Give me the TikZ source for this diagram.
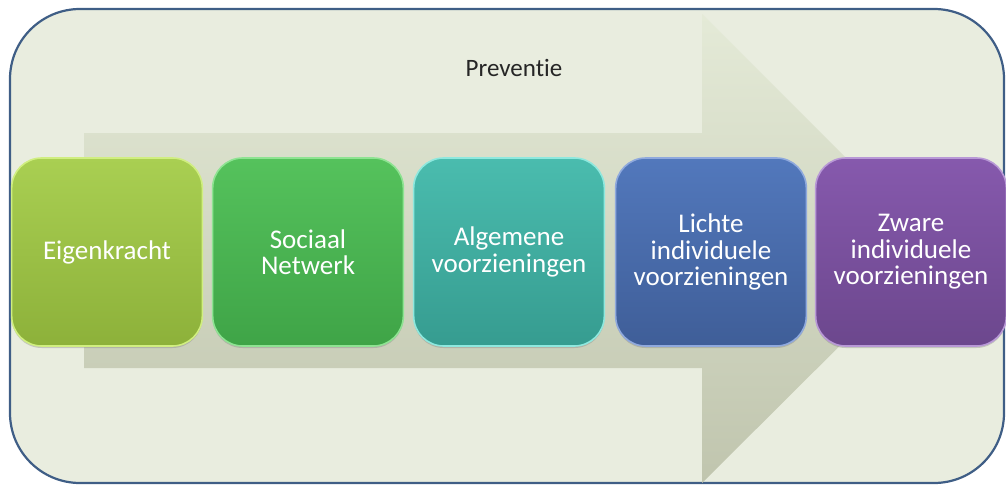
\documentclass[tikz,border=0pt]{standalone}
\usepackage{fontspec}
\setmainfont{Carlito}[Ligatures=NoCommon]
\usetikzlibrary{shadows}
\definecolor{frameblue}{HTML}{3F5E86}
\definecolor{framefill}{HTML}{E9EDDF}
\definecolor{arrtop}{HTML}{E4EAD7}
\definecolor{arrbot}{HTML}{C0C5AE}
\definecolor{c1t}{HTML}{A9CF52}\definecolor{c1b}{HTML}{8DB13A}\definecolor{c1e}{HTML}{D0EE80}
\definecolor{c2t}{HTML}{55C25C}\definecolor{c2b}{HTML}{3FA447}\definecolor{c2e}{HTML}{8EE392}
\definecolor{c3t}{HTML}{4ABCAE}\definecolor{c3b}{HTML}{369C90}\definecolor{c3e}{HTML}{8EE8DE}
\definecolor{c4t}{HTML}{5278BC}\definecolor{c4b}{HTML}{3F5E98}\definecolor{c4e}{HTML}{8FA9DD}
\definecolor{c5t}{HTML}{8659AD}\definecolor{c5b}{HTML}{6C478D}\definecolor{c5e}{HTML}{B898D6}
\tikzset{
  stepbox/.style n args={3}{draw=#3, line width=1.6pt, rounded corners=30pt,
    top color=#1, bottom color=#2, minimum width=188pt, minimum height=188pt,
    text=white, align=center, text width=184pt,
    font=\fontsize{27}{26.5}\selectfont,
    drop shadow={shadow xshift=0pt, shadow yshift=-2pt, opacity=0.35}},
  lbl/.style={text=black!85, font=\fontsize{25}{28}\selectfont}
}
\begin{document}
\begin{tikzpicture}[x=1pt,y=-1pt]
\useasboundingbox (0,0) rectangle (1006,485);
% outer frame
\draw[frameblue, line width=2.2pt, fill=framefill, rounded corners=70pt]
  (10,9) rectangle (1004,483);
% big arrow
\shade[top color=arrtop, bottom color=arrbot]
  (84,133) -- (702,133) -- (702,14) -- (937,249) -- (702,483) -- (702,368) -- (84,368) -- cycle;
\node[lbl] (prev) at (514,68) {Preventie};
% boxes
\node[stepbox={c1t}{c1b}{c1e}] (b1) at (107,252) {Eigenkracht};
\node[stepbox={c2t}{c2b}{c2e}] (b2) at (308,252) {Sociaal\\Netwerk};
\node[stepbox={c3t}{c3b}{c3e}] (b3) at (509,252) {Algemene\\voorzieningen};
\node[stepbox={c4t}{c4b}{c4e}] (b4) at (711,252) {Lichte\\individuele\\voorzieningen};
\node[stepbox={c5t}{c5b}{c5e}] (b5) at (911,252) {Zware\\individuele\\voorzieningen};
\end{tikzpicture}
\end{document}
